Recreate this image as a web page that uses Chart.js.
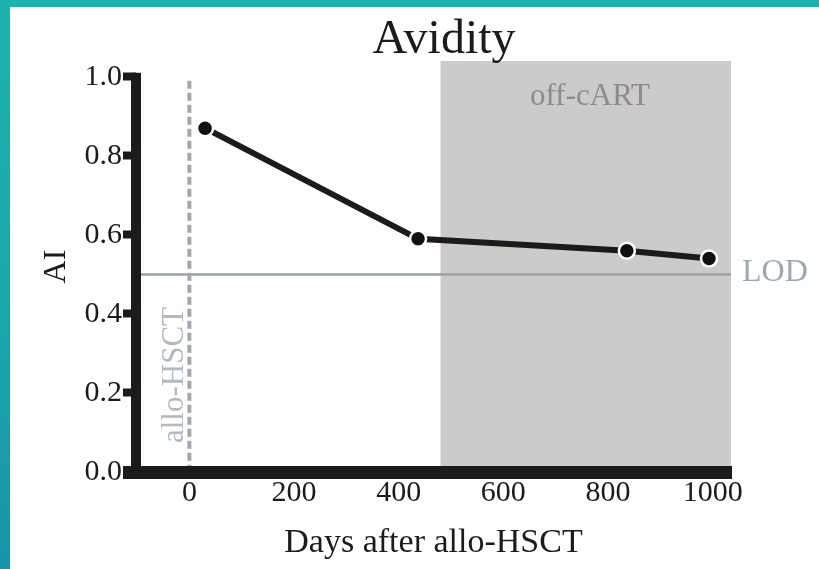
<!DOCTYPE html>
<html>
<head>
<meta charset="utf-8">
<script src="https://cdn.jsdelivr.net/npm/chart.js@4.4.1/dist/chart.umd.min.js"></script>
<style>
  html, body { margin: 0; padding: 0; }
  body {
    width: 819px; height: 569px; overflow: hidden; position: relative;
    background: linear-gradient(180deg, #1db3ad 0%, #1aa9aa 50%, #1795a8 100%);
  }
  #panel { position: absolute; left: 10px; top: 7px; right: 0; bottom: 0; background: #fff; }
  #chart { position: absolute; left: 0; top: 0; }
</style>
</head>
<body>
<div id="panel"></div>
<canvas id="chart" width="819" height="569"></canvas>
<script>
// Antibody avidity index over time after allogeneic stem cell transplant
const days = [30, 437, 836, 993];
const avidity = [0.87, 0.59, 0.56, 0.54];
const xTicks = [0, 200, 400, 600, 800, 1000];
const yTicks = [0, 0.2, 0.4, 0.6, 0.8, 1.0];
const lodValue = 0.5;            // limit of detection
const offCartStart = 480;        // start of the off-cART period (days)
const transplantDay = 0;         // allo-HSCT
const transplantLineTop = 0.99;

const SERIF = '"Liberation Serif", "DejaVu Serif", serif';
const INK = '#1c1a1a';

const overlay = {
  id: 'overlay',
  beforeDatasetsDraw(chart) {
    const { ctx, chartArea: a, scales: { x, y } } = chart;
    ctx.save();

    // off-cART shaded period
    const sx = x.getPixelForValue(offCartStart);
    const ex = x.getPixelForValue(x.max);
    ctx.fillStyle = '#cccbca';
    ctx.fillRect(sx, a.top, ex - sx, a.bottom - a.top);

    // limit of detection
    const ly = y.getPixelForValue(lodValue);
    ctx.strokeStyle = '#99a0a6';
    ctx.lineWidth = 2.5;
    ctx.beginPath();
    ctx.moveTo(a.left, ly);
    ctx.lineTo(a.right, ly);
    ctx.stroke();

    // transplant marker
    const tx = x.getPixelForValue(transplantDay);
    ctx.strokeStyle = '#a3a7ab';
    ctx.lineWidth = 4;
    ctx.setLineDash([8, 4]);
    ctx.beginPath();
    ctx.moveTo(tx, y.getPixelForValue(transplantLineTop));
    ctx.lineTo(tx, a.bottom);
    ctx.stroke();
    ctx.setLineDash([]);

    // labels
    ctx.textBaseline = 'middle';
    ctx.font = `31px ${SERIF}`;
    ctx.fillStyle = '#8c8c8c';
    ctx.textAlign = 'center';
    ctx.fillText('off-cART', 590, 97);

    ctx.font = `32px ${SERIF}`;
    ctx.fillStyle = '#a0a7ae';
    ctx.textAlign = 'left';
    ctx.fillText('LOD', a.right + 11, ly - 2);

    ctx.save();
    ctx.font = `31px ${SERIF}`;
    ctx.translate(tx - 15, 375);
    ctx.rotate(-Math.PI / 2);
    ctx.fillStyle = '#b4b9bf';
    ctx.textAlign = 'center';
    ctx.fillText('allo-HSCT', 0, 0);
    ctx.restore();

    // heavy axis lines
    ctx.fillStyle = INK;
    const top = y.getPixelForValue(1) - 4;
    ctx.fillRect(a.left - 5, top, 10, a.bottom + 7 - top);
    ctx.fillRect(a.left - 13, a.bottom - 6, a.right + 1 - (a.left - 13), 13);

    // chart title
    ctx.font = `48px ${SERIF}`;
    ctx.fillStyle = INK;
    ctx.textAlign = 'center';
    ctx.fillText('Avidity', 444, 40);

    ctx.restore();
  }
};

new Chart(document.getElementById('chart'), {
  type: 'line',
  data: {
    datasets: [{
      data: days.map((d, i) => ({ x: d, y: avidity[i] })),
      borderColor: INK,
      borderWidth: 6,
      pointRadius: 8,
      pointBackgroundColor: '#111',
      pointBorderColor: '#fff',
      pointBorderWidth: 2.5,
      tension: 0
    }]
  },
  options: {
    responsive: false,
    animation: false,
    devicePixelRatio: 1,
    layout: { padding: { top: 61, right: 88, left: 0, bottom: 0 } },
    plugins: { legend: { display: false }, tooltip: { enabled: false } },
    scales: {
      x: {
        type: 'linear',
        min: -102,
        max: 1035,
        afterBuildTicks: s => { s.ticks = xTicks.map(v => ({ value: v })); },
        afterFit: s => { s.height = 97; },
        grid: { display: false, drawTicks: false },
        border: { display: false },
        ticks: {
          padding: 3, color: INK, maxRotation: 0, autoSkip: false,
          font: { family: SERIF, size: 30 },
          callback: v => String(v)
        },
        title: {
          display: true, text: 'Days after allo-HSCT', color: INK,
          font: { family: SERIF, size: 34 }, padding: { top: 0, bottom: 6 }
        }
      },
      y: {
        min: 0,
        max: 1.04,
        afterBuildTicks: s => { s.ticks = yTicks.map(v => ({ value: v })); },
        afterFit: s => { s.width = 136; },
        grid: { drawOnChartArea: false, drawTicks: true, tickLength: 13, tickWidth: 8, tickColor: INK },
        border: { display: false },
        ticks: {
          padding: 1, color: INK,
          font: { family: SERIF, size: 30 },
          callback: v => Number(v).toFixed(1)
        },
        title: {
          display: true, text: 'AI', color: INK,
          font: { family: SERIF, size: 32 }, padding: { top: 37, bottom: 0 }
        }
      }
    }
  },
  plugins: [overlay]
});
</script>
</body>
</html>
